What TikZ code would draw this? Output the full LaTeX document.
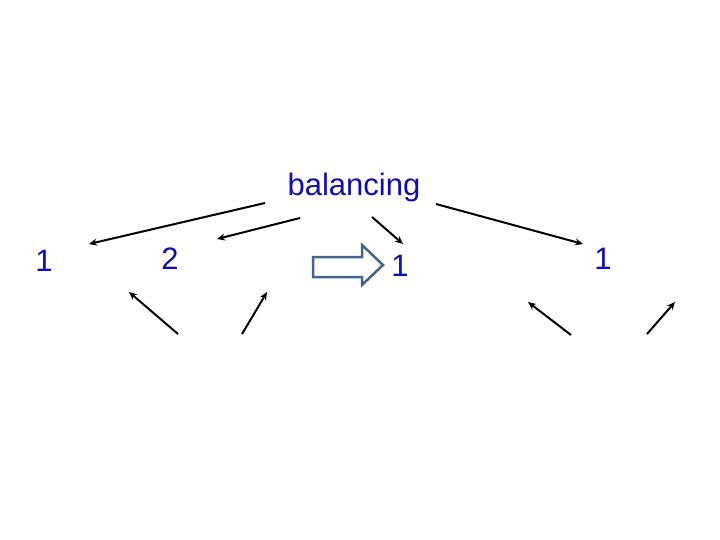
\documentclass[tikz,border=0pt]{standalone}
\usepackage{fontspec}
\setmainfont{Liberation Sans}
\usetikzlibrary{arrows.meta}
\definecolor{txtblue}{RGB}{15,15,175}
\definecolor{blockedge}{RGB}{70,100,135}
\tikzset{
  lbl/.style={text=txtblue, font=\fontsize{31}{34}\selectfont, inner sep=0pt, anchor=center},
  conn/.style={draw=black, line width=2pt, -{Stealth[length=8pt,width=7pt]}},
  blockarrow/.style={draw=blockedge, fill=white, line width=2.5pt, line join=miter}
}
\begin{document}
\begin{tikzpicture}[x=1pt,y=-1pt]
\useasboundingbox (0,0) rectangle (720,540);
\node[lbl] (bal) at (354,187) {balancing};
\node[lbl] (n1) at (44,261) {1};
\node[lbl] (n2) at (170,259) {2};
\node[lbl] (n3) at (400,266) {1};
\node[lbl] (n4) at (603,259) {1};
% block arrow
\draw[blockarrow] (313,257) -- (362,257) -- (362,245) -- (383,265) -- (362,285) -- (362,277) -- (313,277) -- cycle;
% connector end points
\coordinate (a1s) at (265,203); \coordinate (a1e) at (89,244);
\coordinate (a2s) at (300,218); \coordinate (a2e) at (217,239);
\coordinate (a3s) at (372,217); \coordinate (a3e) at (403,244);
\coordinate (a4s) at (436,204); \coordinate (a4e) at (583,244);
\coordinate (a5s) at (178,334); \coordinate (a5e) at (129,292);
\coordinate (a6s) at (242,334); \coordinate (a6e) at (267,292);
\coordinate (a7s) at (571,335); \coordinate (a7e) at (528,302);
\coordinate (a8s) at (647,334); \coordinate (a8e) at (675,302);
\draw[conn] (a1s) -- (a1e);
\draw[conn] (a2s) -- (a2e);
\draw[conn] (a3s) -- (a3e);
\draw[conn] (a4s) -- (a4e);
\draw[conn] (a5s) -- (a5e);
\draw[conn] (a6s) -- (a6e);
\draw[conn] (a7s) -- (a7e);
\draw[conn] (a8s) -- (a8e);
\end{tikzpicture}
\end{document}
